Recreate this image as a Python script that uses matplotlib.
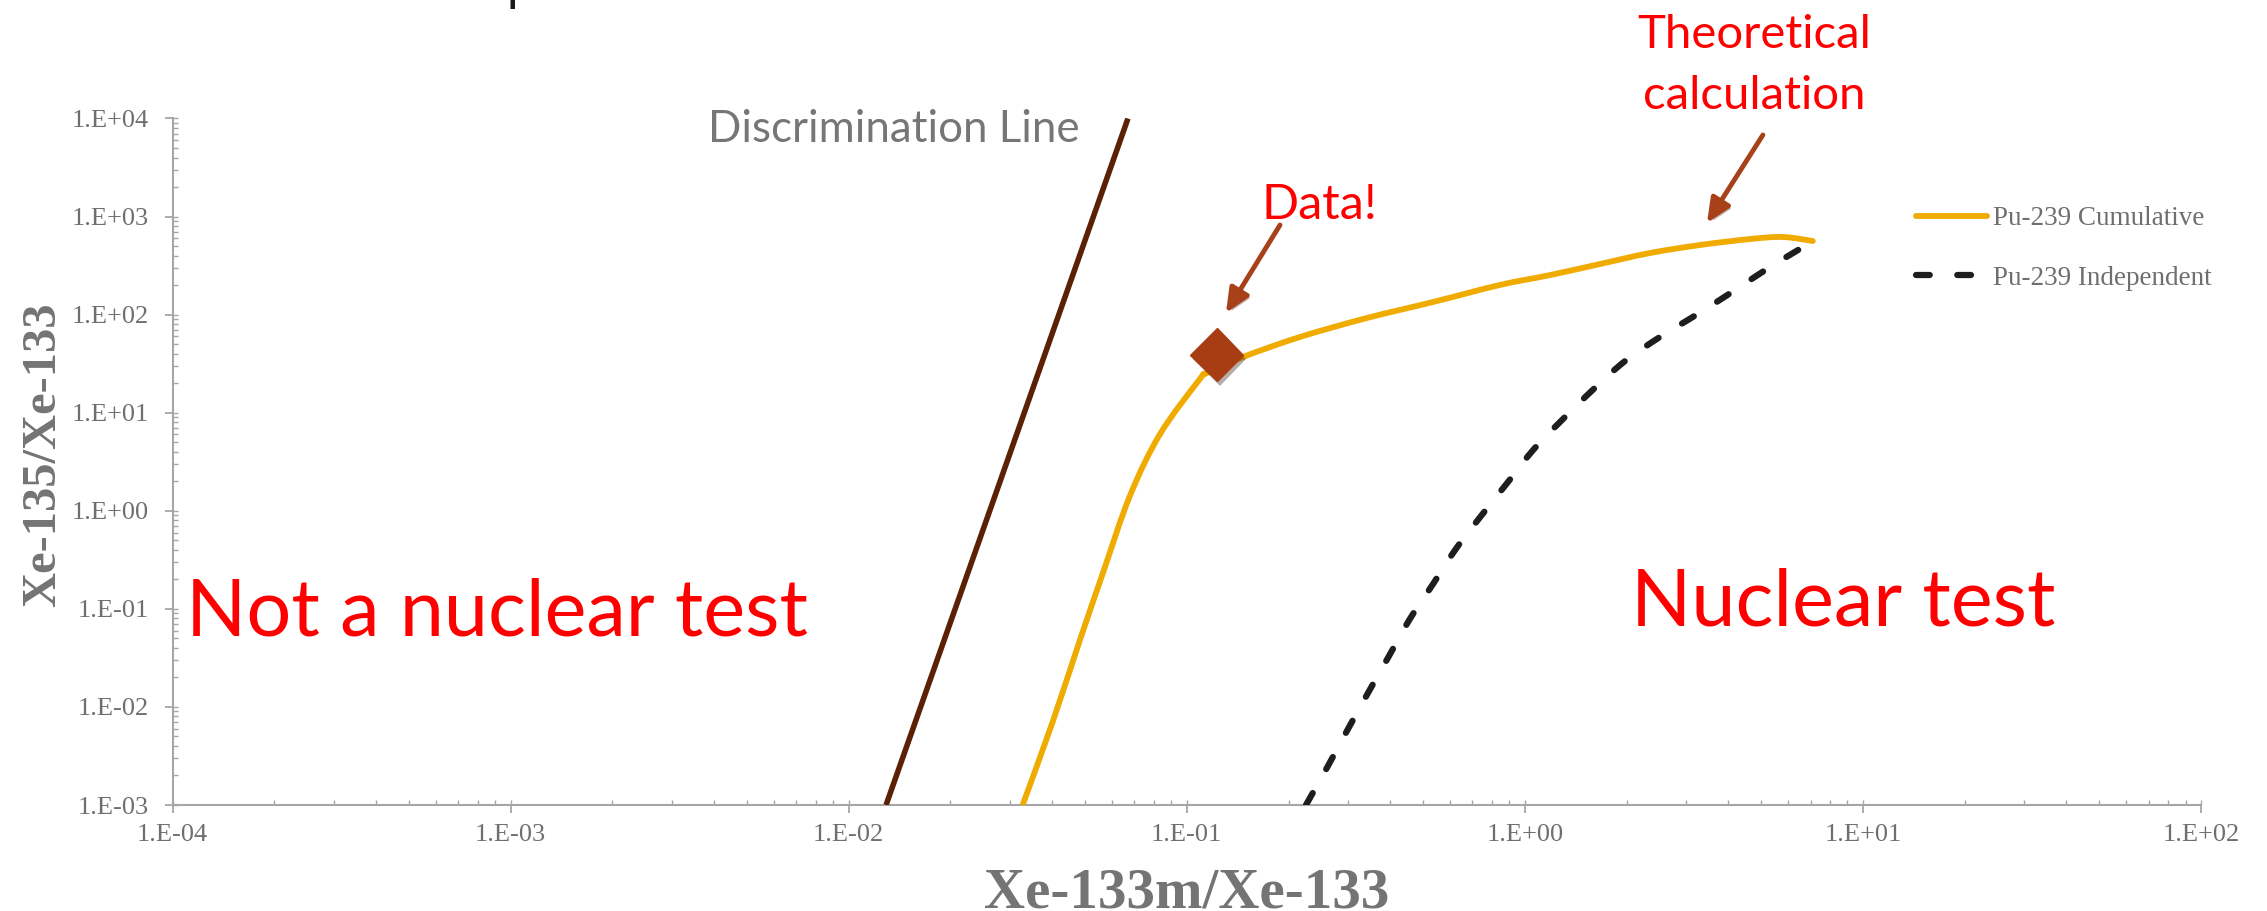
import numpy as np
import matplotlib
matplotlib.use("Agg")
import matplotlib.pyplot as plt
from matplotlib import patheffects as pe
from matplotlib.path import Path
from matplotlib.patches import PathPatch
from matplotlib.lines import Line2D
from matplotlib.ticker import FixedLocator, FixedFormatter, LogLocator, NullFormatter

# ---------------- data ----------------
cum_x = [0.0327, 0.0402, 0.0483, 0.0565, 0.0679, 0.0834, 0.1094, 0.1148, 0.1466,
         0.2163, 0.341, 0.535, 0.843, 1.186, 1.667, 2.344, 3.30, 4.63, 5.80, 7.11]
cum_y = [0.001, 0.00718, 0.0481, 0.232, 1.42, 6.07, 22.1, 25.4, 37.0,
         59.2, 92.4, 134.5, 200.6, 253, 328, 425, 513, 590, 619, 563]

ind_x = [0.2252, 0.2616, 0.2999, 0.3436, 0.3963, 0.457, 0.535, 0.625, 0.746, 0.891,
         1.064, 1.297, 1.60, 1.98, 2.51, 3.21, 4.10, 5.20, 6.65, 7.11]
ind_y = [0.001, 0.0025, 0.00596, 0.01387, 0.0330, 0.0788, 0.179, 0.408, 0.906, 1.96,
         4.26, 8.63, 17.5, 33.7, 59.2, 99.2, 170, 292, 489, 563]

disc_x = [0.0129, 0.0670]
disc_y = [1e-3, 1e4]

data_x = [0.1227]
data_y = [38.8]

x_ticks = [1e-4, 1e-3, 1e-2, 1e-1, 1e0, 1e1, 1e2]
x_tick_labels = ["1.E-04", "1.E-03", "1.E-02", "1.E-01", "1.E+00", "1.E+01", "1.E+02"]
y_ticks = [1e-3, 1e-2, 1e-1, 1e0, 1e1, 1e2, 1e3, 1e4]
y_tick_labels = ["1.E-03", "1.E-02", "1.E-01", "1.E+00", "1.E+01", "1.E+02", "1.E+03", "1.E+04"]

series_labels = ["Pu-239 Cumulative", "Pu-239 Independent"]

# ---------------- figure ----------------
plt.rcParams['font.family'] = ['Liberation Serif', 'DejaVu Serif']

W, H = 2267, 911
fig = plt.figure(figsize=(W / 100, H / 100), dpi=100)
L, R, T, B = 172.5, 2201.0, 118.5, 805.0
ax = fig.add_axes([L / W, 1 - B / H, (R - L) / W, (B - T) / H])
ax.set_xscale('log')
ax.set_yscale('log')
ax.set_xlim(1e-4, 1e2)
ax.set_ylim(1e-3, 1e4)

def fx(px):
    return (px - L) / (R - L)

def fy(py):
    return (B - py) / (B - T)

def smoothed_path(xs, ys):
    """Excel-style smoothed line: cubic Bezier through the points (in log space)."""
    P = np.column_stack([np.log10(xs), np.log10(ys)])
    n = len(P)
    verts = [P[0]]
    codes = [Path.MOVETO]
    for i in range(n - 1):
        p0 = P[i - 1] if i > 0 else P[i]
        p1, p2 = P[i], P[i + 1]
        p3 = P[i + 2] if i + 2 < n else P[i + 1]
        verts += [p1 + (p2 - p0) / 6.0, p2 - (p3 - p1) / 6.0, p2]
        codes += [Path.CURVE4] * 3
    return Path(10 ** np.array(verts), codes)

GRAY_AX = '#A6A6A6'
GRAY_TXT = '#6F6F6F'
ARROW = '#A8401A'
RED = '#FF0000'
ORANGE = '#F0AB00'
DARK = '#1E1E1E'
DASH = (0, (2.2, 4.4))

# lines
ax.plot(disc_x, disc_y, color='#5C2104', lw=4.0, solid_capstyle='butt', zorder=3)
cum_patch = PathPatch(smoothed_path(cum_x, cum_y), fill=False, edgecolor=ORANGE, lw=4.2,
                      joinstyle='round', capstyle='round', zorder=3)
ax.add_patch(cum_patch)
ind_patch = PathPatch(smoothed_path(ind_x, ind_y), fill=False, edgecolor=DARK, lw=4.5,
                      linestyle=DASH, capstyle='round', joinstyle='round', zorder=3)
ax.add_patch(ind_patch)
ax.plot(data_x, data_y, marker='D', ms=27, color='#A83C12', ls='none', zorder=4,
        path_effects=[pe.SimplePatchShadow(offset=(2, -3), alpha=0.35), pe.Normal()])

# spines
for s in ['top', 'right']:
    ax.spines[s].set_visible(False)
for s in ['left', 'bottom']:
    ax.spines[s].set_color(GRAY_AX)
    ax.spines[s].set_linewidth(1.5)

# ticks
for axis, ticks, labels in [(ax.xaxis, x_ticks, x_tick_labels), (ax.yaxis, y_ticks, y_tick_labels)]:
    axis.set_major_locator(FixedLocator(ticks))
    axis.set_major_formatter(FixedFormatter(labels))
    axis.set_minor_locator(LogLocator(base=10, subs=np.arange(1, 10), numticks=200))
    axis.set_minor_formatter(NullFormatter())
    axis.remove_overlapping_locs = False

ax.tick_params(which='major', direction='out', length=5.8, width=1.3, color=GRAY_AX,
               labelsize=19, labelcolor=GRAY_TXT)
ax.tick_params(axis='x', which='major', pad=8)
ax.tick_params(axis='y', which='major', pad=11)
ax.tick_params(which='minor', direction='in', length=3.8, width=1.0, color=GRAY_AX)

# axis labels
ax.set_xlabel('Xe-133m/Xe-133', fontsize=41, fontweight='bold', color='#747474', va='baseline')
ax.xaxis.set_label_coords(0.5, fy(908))
ax.set_ylabel('Xe-135/Xe-133', fontsize=35, fontweight='bold', color='#747474', va='baseline')
ax.yaxis.set_label_coords(fx(55), fy(455))

# legend
handles = [Line2D([], [], color=ORANGE, lw=4.2, solid_capstyle='round'),
           Line2D([], [], color=DARK, lw=4.5, linestyle=DASH, dash_capstyle='round')]
leg = ax.legend(handles, series_labels, loc='upper left',
                bbox_to_anchor=(1916 / W, 1 - 206 / H),
                bbox_transform=fig.transFigure, frameon=False,
                prop={'family': 'Liberation Serif', 'size': 19.5},
                handlelength=2.63, handletextpad=0.22, labelspacing=1.28,
                borderpad=0, borderaxespad=0)
for t in leg.get_texts():
    t.set_color(GRAY_TXT)

# annotations
sans = ['Lato', 'DejaVu Sans']
ax.text(fx(186), fy(636), 'Not a nuclear test', transform=ax.transAxes, fontsize=57,
        color=RED, family=sans, ha='left', va='baseline')
ax.text(fx(1631), fy(626), 'Nuclear test', transform=ax.transAxes, fontsize=57,
        color=RED, family=sans, ha='left', va='baseline')
ax.text(fx(708.5), fy(142), 'Discrimination Line', transform=ax.transAxes, fontsize=31.6,
        color='#767676', family=sans, ha='left', va='baseline')
ax.text(fx(1262), fy(219), 'Data!', transform=ax.transAxes, fontsize=35,
        color=RED, family=sans, ha='left', va='baseline')
ax.text(fx(1754), fy(109), 'Theoretical\ncalculation', transform=ax.transAxes, fontsize=34,
        color=RED, family=sans, ha='center', va='baseline', multialignment='center',
        linespacing=1.55, clip_on=False)

arrow_kw = dict(arrowstyle='-|>,head_length=1.45,head_width=0.65', color=ARROW, lw=3.5,
                shrinkA=0, shrinkB=0, mutation_scale=10,
                path_effects=[pe.SimplePatchShadow(offset=(2, -2), alpha=0.3), pe.Normal()])
ax.annotate('', xy=(0.1306, 104), xytext=(0.1887, 820), xycoords='data',
            arrowprops=arrow_kw, annotation_clip=False)
ax.annotate('', xy=(3.457, 860), xytext=(5.06, 6790), xycoords='data',
            arrowprops=arrow_kw, annotation_clip=False)

# fragment of a title cut off above the figure
fig.text(506.5 / W, 1.0, 'p', fontsize=36, family=sans, color='#1A1A1A', va='baseline')

fig.savefig('out.png', dpi=100, facecolor='white')
